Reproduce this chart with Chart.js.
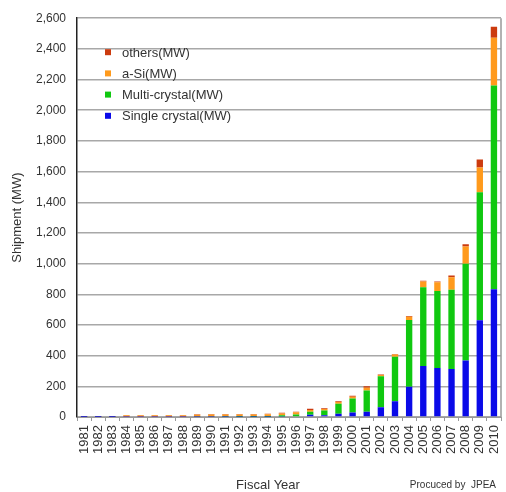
<!DOCTYPE html>
<html>
<head>
<meta charset="utf-8">
<script src="https://cdn.jsdelivr.net/npm/chart.js@4.4.0/dist/chart.umd.min.js"></script>
<style>
  html, body { margin: 0; padding: 0; background: #fff; }
  #wrap { width: 506px; height: 492px; }
</style>
</head>
<body>
<div id="wrap"><canvas id="pvChart" width="506" height="492"></canvas></div>
<script>
const years = [
  "1981", "1982", "1983", "1984", "1985", "1986", "1987", "1988", "1989", "1990",
  "1991", "1992", "1993", "1994", "1995", "1996", "1997", "1998", "1999", "2000",
  "2001", "2002", "2003", "2004", "2005", "2006", "2007", "2008", "2009", "2010"
];

// shipment (MW)
const singleCrystal = [0.5, 0.5, 0.5, 1, 1, 1, 1, 1, 1, 1, 1, 2, 2, 2, 3, 5, 15, 11, 21, 30, 34, 64, 102, 198, 332, 320, 313, 369, 631, 833];
const multiCrystal = [0.5, 0.5, 0.5, 1, 1, 1, 1, 1, 2, 2, 4, 4, 4, 5, 8, 12, 19, 32, 66, 91, 138, 202, 290, 435, 514, 502, 516, 630, 834, 1329];
const aSi = [4, 4, 4, 9, 9, 9, 9, 9, 12, 14, 12, 11, 11, 11, 12, 14, 11, 9, 10, 11, 18, 8, 15, 21, 38, 56, 82, 113, 162, 311];
const others = [2, 2, 2, 2, 2, 2, 2, 2, 3, 3, 3, 3, 3, 3, 4, 4, 8, 5, 5, 6, 10, 3, 4, 4, 4, 6, 11, 15, 52, 72];

const yMax = 2600;
const yStep = 200;

const FONT = "'Liberation Sans', Arial, sans-serif";
const TEXT = "#333";

// legend drawn inside the plot, top item = top of the stack
const insideLegend = {
  id: "insideLegend",
  afterDraw(chart) {
    const ctx = chart.ctx;
    const area = chart.chartArea;
    const sets = chart.data.datasets.slice().reverse();
    ctx.save();
    ctx.font = "13px " + FONT;
    ctx.textBaseline = "middle";
    sets.forEach((ds, i) => {
      const y = area.top + 34 + i * 21.2;
      ctx.fillStyle = ds.backgroundColor;
      ctx.fillRect(area.left + 28, y - 3, 6, 6);
      ctx.fillStyle = TEXT;
      ctx.fillText(ds.label, area.left + 45, y + 1);
    });
    ctx.restore();
  }
};

// right border, x title and source note
const frameAndNotes = {
  id: "frameAndNotes",
  afterDraw(chart) {
    const ctx = chart.ctx;
    const area = chart.chartArea;
    ctx.save();
    ctx.strokeStyle = "#999";
    ctx.lineWidth = 1.5;
    ctx.beginPath();
    ctx.moveTo(area.right, area.top);
    ctx.lineTo(area.right, area.bottom);
    ctx.stroke();

    ctx.fillStyle = TEXT;
    ctx.textBaseline = "middle";
    ctx.textAlign = "center";
    ctx.font = "13px " + FONT;
    ctx.fillText("Fiscal Year", 268, 485);
    ctx.textAlign = "right";
    ctx.font = "10px " + FONT;
    ctx.fillText("Procuced by  JPEA", 496, 485);
    ctx.restore();
  }
};

const barStyle = { categoryPercentage: 1, barPercentage: 0.45 };

new Chart(document.getElementById("pvChart"), {
  type: "bar",
  data: {
    labels: years,
    datasets: [
      { label: "Single crystal(MW)", data: singleCrystal, backgroundColor: "#0a0ae8", ...barStyle },
      { label: "Multi-crystal(MW)", data: multiCrystal, backgroundColor: "#10c810", ...barStyle },
      { label: "a-Si(MW)", data: aSi, backgroundColor: "#ff9a1c", ...barStyle },
      { label: "others(MW)", data: others, backgroundColor: "#cc3b0e", ...barStyle }
    ]
  },
  options: {
    responsive: false,
    animation: false,
    layout: { padding: { left: 0, right: 5, top: 9, bottom: 0 } },
    plugins: {
      legend: { display: false },
      tooltip: { enabled: false }
    },
    scales: {
      x: {
        stacked: true,
        afterFit: (scale) => {
          scale.height = 75;
          scale.paddingLeft = 0;
          scale.paddingRight = 0;
        },
        ticks: {
          color: TEXT,
          font: { family: FONT, size: 13 },
          minRotation: 90,
          maxRotation: 90,
          autoSkip: false,
          padding: 4
        },
        grid: {
          drawOnChartArea: false,
          drawTicks: true,
          tickLength: 4,
          color: "#999"
        },
        border: { color: "#999", width: 1 }
      },
      y: {
        stacked: true,
        min: 0,
        max: yMax,
        afterFit: (scale) => { scale.width = 77; },
        ticks: {
          stepSize: yStep,
          color: TEXT,
          font: { family: FONT, size: 12 },
          padding: 11,
          callback: (v) => v.toLocaleString("en-US")
        },
        grid: {
          drawTicks: false,
          color: "#a8a8a8",
          lineWidth: 1.5
        },
        border: { color: "#222", width: 1.5 },
        title: {
          display: true,
          text: "Shipment (MW)",
          color: TEXT,
          font: { family: FONT, size: 13 },
          padding: { top: 10, bottom: 0 }
        }
      }
    }
  },
  plugins: [insideLegend, frameAndNotes]
});
</script>
</body>
</html>
